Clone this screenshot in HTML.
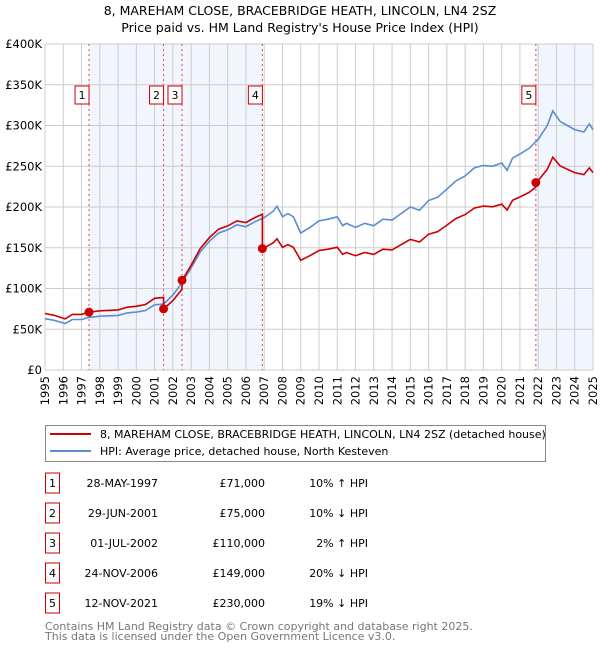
<!DOCTYPE html>
<html><head><meta charset="utf-8"><style>
body{margin:0;background:#fff;}
svg{font-family:"DejaVu Sans","Liberation Sans",sans-serif;}
</style></head><body>
<svg id="c" width="600" height="650" xmlns="http://www.w3.org/2000/svg">
<text x="300" y="15" text-anchor="middle" font-size="12.5">8, MAREHAM CLOSE, BRACEBRIDGE HEATH, LINCOLN, LN4 2SZ</text>
<text x="300" y="32" text-anchor="middle" font-size="12.5">Price paid vs. HM Land Registry's House Price Index (HPI)</text>
<g id="plot"></g>
<g>
<rect x="45.5" y="425.5" width="500" height="36" fill="#fff" stroke="#888"/>
<line x1="50" y1="434" x2="91" y2="434" stroke="#cc0000" stroke-width="2"/>
<text x="100" y="438" font-size="11">8, MAREHAM CLOSE, BRACEBRIDGE HEATH, LINCOLN, LN4 2SZ (detached house)</text>
<line x1="50" y1="451" x2="91" y2="451" stroke="#5b8dd0" stroke-width="2"/>
<text x="100" y="455" font-size="11">HPI: Average price, detached house, North Kesteven</text>
</g>
<g id="table" font-size="11"></g>
<text x="45" y="630" font-size="11" fill="#777">Contains HM Land Registry data © Crown copyright and database right 2025.</text>
<text x="45" y="640" font-size="11" fill="#777">This data is licensed under the Open Government Licence v3.0.</text>
</svg>
<script>
const hpiYears=[1995,1995.5,1996.1,1996.5,1997,1997.4,1998,1999,1999.5,2000,2000.5,2001,2001.5,2002,2002.5,2003,2003.5,2004,2004.5,2005,2005.5,2006,2006.5,2007,2007.5,2007.7,2008,2008.3,2008.6,2009,2009.5,2010,2010.5,2011,2011.3,2011.5,2012,2012.5,2013,2013.5,2014,2014.5,2015,2015.5,2016,2016.5,2017,2017.5,2018,2018.5,2019,2019.5,2020,2020.3,2020.6,2021,2021.5,2022,2022.5,2022.8,2023.2,2023.6,2024,2024.5,2024.8,2025];
const hpiValues=[63,61,57,62,62,64.5,66,67,70,71,73,80,81,92,107,125,145,158,168,172,178,176,182,187,195,201,188,192,188,168,175,183,185,188,177,180,175,180,177,185,184,192,200,196,208,212,222,232,238,248,251,250,254,245,260,265,272,283,300,318,305,300,295,292,302,295];
const saleDates=[1997.41,2001.49,2002.5,2006.9,2021.87];
const salePrices=[71,75,110,149,230];
const saleLabels=["28-MAY-1997","29-JUN-2001","01-JUL-2002","24-NOV-2006","12-NOV-2021"];
const salePriceText=["£71,000","£75,000","£110,000","£149,000","£230,000"];
const saleHpiText=["10% ↑ HPI","10% ↓ HPI","2% ↑ HPI","20% ↓ HPI","19% ↓ HPI"];
const yTicks=[0,50,100,150,200,250,300,350,400];
const yTickLabels=["£0","£50K","£100K","£150K","£200K","£250K","£300K","£350K","£400K"];

const X0=45,X1=593,Y0=370,Y1=44;
const xs=t=>X0+(t-1995)/30*(X1-X0);
const ys=v=>Y0-v/400*(Y0-Y1);
const NS="http://www.w3.org/2000/svg";
const plot=document.getElementById('plot');
function mk(tag,attrs,parent){const e=document.createElementNS(NS,tag);for(const k in attrs)e.setAttribute(k,attrs[k]);parent.appendChild(e);return e;}
function hpiAt(t){for(let i=0;i<hpiYears.length-1;i++){if(t<=hpiYears[i+1]){const f=(t-hpiYears[i])/(hpiYears[i+1]-hpiYears[i]);return hpiValues[i]+f*(hpiValues[i+1]-hpiValues[i]);}}return hpiValues[hpiValues.length-1];}

const bandStarts=[saleDates[0],saleDates[4]];
const bandEnds=[saleDates[3],2025];
for(let i=0;i<bandStarts.length;i++){
const r=mk('rect',{x:xs(bandStarts[i]),y:Y1,width:xs(bandEnds[i])-xs(bandStarts[i]),height:Y0-Y1,fill:'#eef3fc',opacity:0.8},plot);


}
for(let y=1995;y<=2025;y++){
const l=mk('line',{x1:xs(y),x2:xs(y),y1:Y1,y2:Y0,stroke:'#ccc','stroke-width':1},plot);


const t=mk('text',{x:0,y:0,'font-size':11.5,'text-anchor':'end',transform:`translate(${xs(y)+4},${Y0+6}) rotate(-90)`},plot);


t.textContent=y;
}
yTicks.forEach((v,i)=>{
const l=mk('line',{x1:X0,x2:X1,y1:ys(v),y2:ys(v),stroke:'#ccc','stroke-width':1},plot);


const t=mk('text',{x:X0-3,y:ys(v)+4,'font-size':11.5,'text-anchor':'end'},plot);


t.textContent=yTickLabels[i];
});
saleDates.forEach((d,i)=>{
const l=mk('line',{x1:xs(d),x2:xs(d),y1:Y1,y2:Y0,stroke:'#ee4444','stroke-width':1,'stroke-dasharray':'2,3'},plot);


const g=mk('g',{},plot);


mk('rect',{x:xs(d)-14,y:86,width:14,height:18,fill:'#fff',stroke:'#cc0000'},g);
const t=mk('text',{x:xs(d)-7,y:99,'font-size':11,'text-anchor':'middle'},g);
t.textContent=i+1;
});
let hp='';
for(let i=0;i<hpiYears.length;i++)hp+=(i?'L':'M')+xs(hpiYears[i]).toFixed(1)+','+ys(hpiValues[i]).toFixed(1);
const hl=mk('path',{d:hp,fill:'none',stroke:'#5b8dd0','stroke-width':1.6},plot);


const factors=saleDates.map((d,i)=>salePrices[i]/hpiAt(d));
function seg(t){let k=0;for(let i=0;i<saleDates.length;i++)if(t>=saleDates[i])k=i;return k;}
const ts=[...hpiYears,...saleDates].sort((a,b)=>a-b);
let rp='';let first=true;
ts.forEach(t=>{
const k=seg(t);
if(saleDates.includes(t)&&k>0){const prev=hpiAt(t)*factors[k-1];rp+='L'+xs(t).toFixed(1)+','+ys(prev).toFixed(1);}
const v=hpiAt(t)*factors[k];
rp+=(first?'M':'L')+xs(t).toFixed(1)+','+ys(v).toFixed(1);first=false;
});
const rl=mk('path',{d:rp,fill:'none',stroke:'#cc0000','stroke-width':1.6},plot);


saleDates.forEach((d,i)=>{
const c=mk('circle',{cx:xs(d),cy:ys(salePrices[i]),r:4.5,fill:'#cc0000'},plot);


});
const tb=document.getElementById('table');
saleDates.forEach((d,i)=>{
const y=483+i*30;
const g=mk('g',{},tb);


mk('rect',{x:45.5,y:y-10,width:14,height:20,fill:'#fff',stroke:'#cc0000'},g);
const n=mk('text',{x:52.5,y:y+4,'text-anchor':'middle'},g);n.textContent=i+1;
const a=mk('text',{x:158,y:y+4,'text-anchor':'end'},g);a.textContent=saleLabels[i];
const b=mk('text',{x:265,y:y+4,'text-anchor':'end'},g);b.textContent=salePriceText[i];
const c=mk('text',{x:368,y:y+4,'text-anchor':'end'},g);c.textContent=saleHpiText[i];
});
</script>
</body></html>
